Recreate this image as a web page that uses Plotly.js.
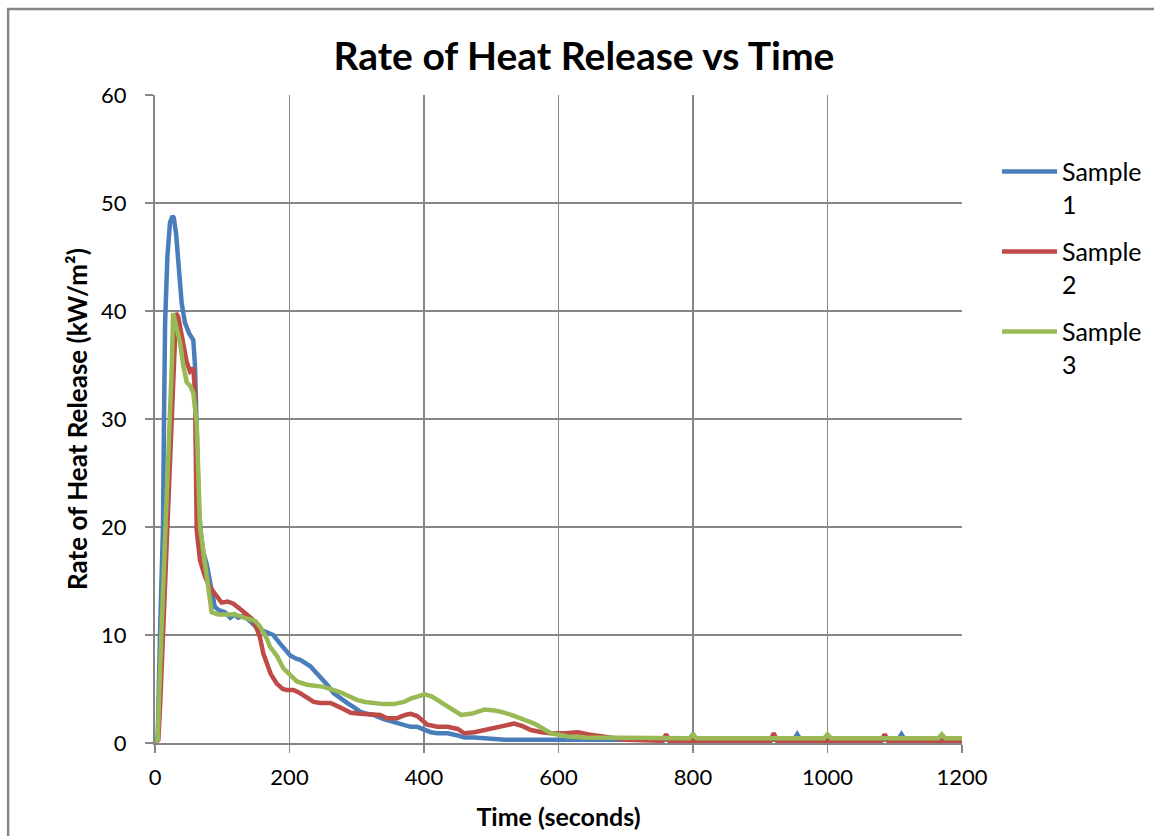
<!DOCTYPE html>
<html>
<head>
<meta charset="utf-8">
<script src="https://cdn.plot.ly/plotly-3.0.1.min.js"></script>
<style>
  html, body { margin: 0; padding: 0; background: #ffffff; }
  #chart { width: 1154px; height: 836px; }
</style>
</head>
<body>
<div id="chart"></div>
<script>
// ---- Data ----
const seriesNames = ["Sample<br>1", "Sample<br>2", "Sample<br>3"];

const timeS1 = [0, 4, 7.4, 10, 11.9, 13.4, 15, 18.4, 22.3, 26,
  28, 31.3, 36.3, 39.7, 44.6, 51, 57, 59.5, 62, 65,
  68, 72, 76.8, 82, 89, 95, 104, 112, 118, 124,
  132, 141, 151, 160, 168, 176, 186, 195, 201, 210,
  216, 231, 246, 256, 266, 276, 286, 296, 305, 315,
  325, 340, 350, 360, 370, 380, 390, 400, 410, 420,
  435, 450, 460, 475, 490, 500, 520, 540, 560, 580,
  600, 640, 680, 720, 760, 795, 800, 805, 850, 900,
  950, 955, 960, 1000, 1050, 1105, 1110, 1115, 1150, 1200];
const hrrS1 = [0.3, 0.5, 10, 16, 20, 30, 38.9, 45, 48.2, 48.8,
  48.6, 47.2, 43.8, 40.7, 38.9, 37.9, 37.3, 34.9, 29, 22,
  19.5, 17.6, 16.6, 14.8, 12.6, 12.3, 12.1, 11.6, 11.9, 11.6,
  11.8, 11.3, 10.7, 10.4, 10.2, 10.0, 9.2, 8.6, 8.1, 7.8,
  7.7, 7.1, 6.1, 5.4, 4.6, 4.1, 3.7, 3.3, 2.9, 2.7,
  2.6, 2.2, 2.0, 1.8, 1.6, 1.5, 1.5, 1.2, 1.0, 0.9,
  0.9, 0.7, 0.5, 0.5, 0.4, 0.4, 0.3, 0.3, 0.25, 0.3,
  0.3, 0.3, 0.3, 0.3, 0.3, 0.3, 0.8, 0.3, 0.3, 0.3,
  0.3, 0.8, 0.3, 0.3, 0.3, 0.3, 0.8, 0.3, 0.3, 0.3];

const timeS2 = [0, 5, 8, 11.9, 15, 18.3, 21, 25.5, 28, 31.3,
  34.7, 39.7, 44, 47, 52, 57, 59.5, 62, 67, 74.4,
  82, 89, 99, 108, 116.5, 126.5, 136.5, 144, 150, 156,
  161, 166, 172, 181, 190, 196, 206, 216, 226, 236,
  246, 261, 275, 291, 305, 320, 335, 345, 360, 372,
  380, 390, 405, 420, 435, 450, 460, 475, 490, 510,
  534, 545, 559, 575, 589, 610, 629, 645, 664, 700,
  755, 760, 765, 800, 900, 915, 920, 925, 1000, 1080,
  1085, 1090, 1150, 1200];
const hrrS2 = [0, 0.3, 4, 10, 15, 20, 24, 30, 35, 39.8,
  39.4, 37.5, 36.2, 35.3, 34.4, 34.7, 32.5, 19.7, 16.9, 15.4,
  14.4, 13.8, 13.0, 13.1, 12.9, 12.4, 11.9, 11.5, 10.8, 9.8,
  8.3, 7.3, 6.4, 5.5, 5.0, 4.9, 4.9, 4.6, 4.2, 3.8,
  3.7, 3.7, 3.3, 2.8, 2.7, 2.7, 2.6, 2.3, 2.3, 2.6,
  2.7, 2.5, 1.7, 1.5, 1.5, 1.3, 0.9, 1.0, 1.2, 1.4,
  1.8, 1.6, 1.2, 1.0, 0.9, 0.9, 1.0, 0.8, 0.6, 0.3,
  0.2, 0.8, 0.2, 0.2, 0.2, 0.2, 0.9, 0.2, 0.2, 0.2,
  0.8, 0.2, 0.2, 0.2];

const timeS3 = [0, 4, 9.4, 12, 15.4, 19, 21.9, 25, 27, 32.3,
  37.2, 42.1, 47.2, 52, 57, 62, 67, 74.4, 80, 84.3,
  94, 105, 119, 132, 149, 156, 166, 171, 181, 191,
  206, 211, 226, 240, 251, 276, 290, 300, 312, 325,
  340, 355, 370, 380, 390, 401, 412, 425, 440, 455,
  470, 490, 505, 514, 530, 544, 564, 589, 614, 640,
  700, 795, 800, 805, 900, 995, 1000, 1005, 1100, 1165,
  1170, 1175, 1200];
const hrrS3 = [0, 0.3, 10, 14, 20, 25, 30, 35, 39.8, 38.3,
  37.1, 34.9, 33.4, 33.1, 32.4, 29.6, 20, 16.6, 13.8, 12.1,
  11.9, 11.9, 11.9, 11.6, 11.3, 10.8, 9.7, 8.9, 8.1, 6.9,
  6.0, 5.7, 5.4, 5.3, 5.2, 4.7, 4.3, 4.0, 3.8, 3.7,
  3.6, 3.6, 3.8, 4.1, 4.3, 4.5, 4.3, 3.8, 3.2, 2.6,
  2.7, 3.1, 3.0, 2.9, 2.6, 2.3, 1.8, 0.9, 0.6, 0.5,
  0.45, 0.45, 0.8, 0.45, 0.45, 0.45, 0.8, 0.45, 0.45, 0.45,
  0.8, 0.45, 0.45];

const xTickVals = [0, 200, 400, 600, 800, 1000, 1200];
const yTickVals = [0, 10, 20, 30, 40, 50, 60];

const chartTitle = "Rate of Heat Release vs Time";
const xTitle = "Time (seconds)";
const yTitle = "Rate of Heat Release (kW/m²)";

// ---- Styles ----
const colors = ["#4A7EBB", "#BE4B48", "#98B954"];
const gridGrey = "#868686";
const fontFam = "Lato, 'Open Sans', sans-serif";

const xs = [timeS1, timeS2, timeS3];
const ys = [hrrS1, hrrS2, hrrS3];

const traces = xs.map((x, i) => ({
  x: x,
  y: ys[i],
  type: "scatter",
  mode: "lines",
  name: seriesNames[i],
  legendgroup: "g" + i,
  line: { color: colors[i], width: 4.5 }
}));

const layout = {
  width: 1154,
  height: 836,
  paper_bgcolor: "#ffffff",
  plot_bgcolor: "#ffffff",
  margin: { l: 155, r: 192, t: 95, b: 93 },
  font: { family: fontFam, color: "#000000", size: 22 },
  title: {
    text: chartTitle,
    font: { family: fontFam, size: 39, color: "#000000", weight: "bold" },
    x: 0.506, xref: "container", xanchor: "center",
    y: 0.932, yref: "container", yanchor: "middle"
  },
  xaxis: {
    range: [0, 1200],
    tickvals: xTickVals,
    ticktext: xTickVals.map(String),
    showgrid: true,
    gridcolor: gridGrey,
    gridwidth: 1.5,
    showline: true,
    linecolor: gridGrey,
    linewidth: 2,
    ticks: "outside",
    ticklen: 8,
    tickwidth: 1.5,
    tickcolor: gridGrey,
    ticklabelstandoff: 6,
    zeroline: false,
    automargin: false,
    tickfont: { family: fontFam, size: 22, color: "#000000" },
    title: {
      text: xTitle,
      font: { family: fontFam, size: 25, color: "#000000", weight: "bold" },
      standoff: 19
    }
  },
  yaxis: {
    range: [0, 60],
    tickvals: yTickVals,
    ticktext: yTickVals.map(String),
    showgrid: true,
    gridcolor: gridGrey,
    gridwidth: 1.5,
    showline: true,
    linecolor: gridGrey,
    linewidth: 2,
    ticks: "outside",
    ticklen: 8,
    tickwidth: 1.5,
    tickcolor: gridGrey,
    ticklabelstandoff: 14,
    zeroline: false,
    automargin: false,
    tickfont: { family: fontFam, size: 22, color: "#000000" },
    title: {
      text: yTitle,
      font: { family: fontFam, size: 26, color: "#000000", weight: "bold" },
      standoff: 6
    }
  },
  showlegend: true,
  legend: {
    xref: "container", yref: "container",
    x: 0.864, xanchor: "left",
    y: 0.822, yanchor: "top",
    valign: "top",
    bgcolor: "rgba(0,0,0,0)",
    font: { family: fontFam, size: 25, color: "#000000" },
    tracegroupgap: 12,
    itemwidth: 55
  },
  shapes: [{
    type: "rect",
    xref: "paper", yref: "paper",
    x0: -0.182, x1: 1.5,
    y0: -0.5, y1: 1.1327,
    line: { color: gridGrey, width: 2.5 },
    fillcolor: "rgba(0,0,0,0)",
    layer: "below"
  }]
};

Plotly.newPlot("chart", traces, layout, { displayModeBar: false, staticPlot: true });
</script>
</body>
</html>
